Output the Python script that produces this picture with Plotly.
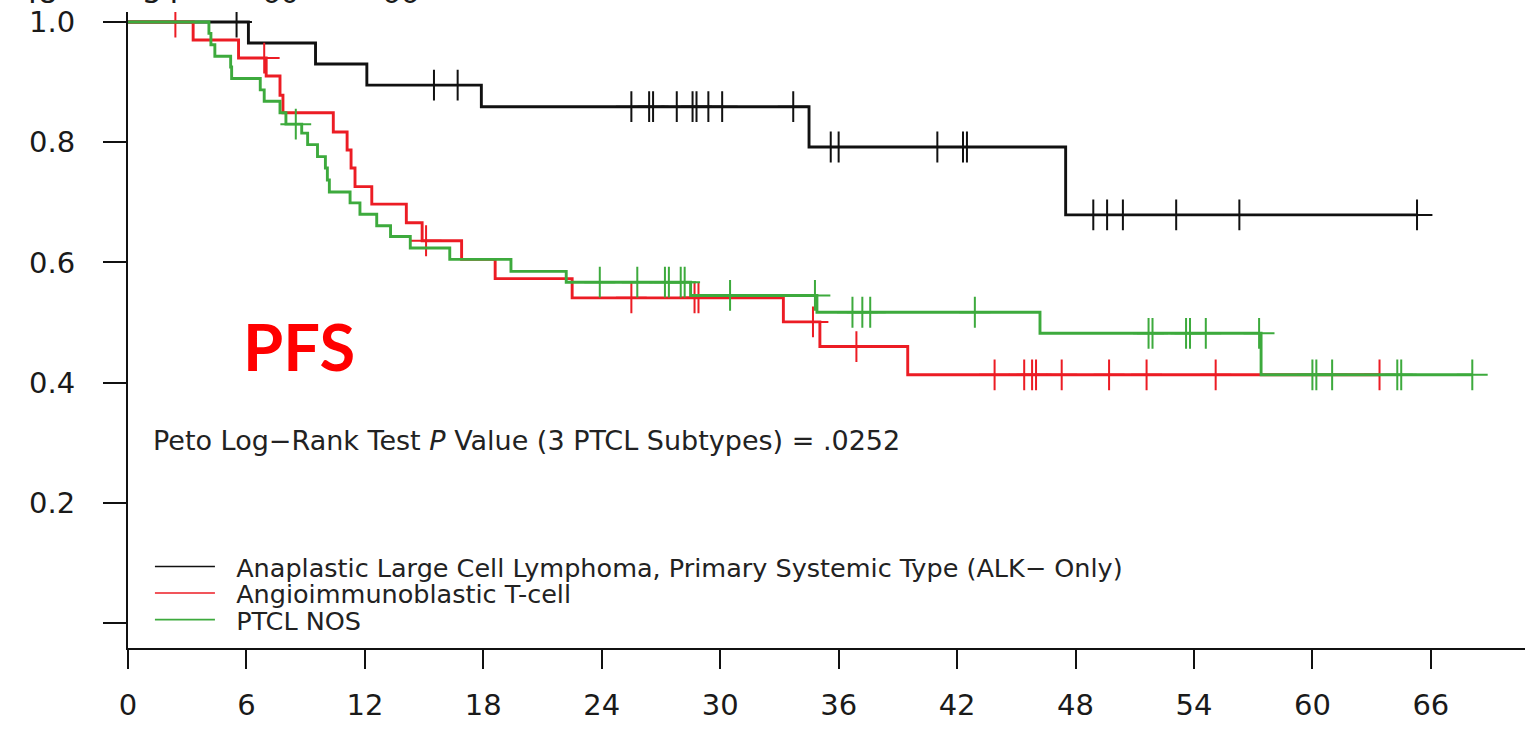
import plotly.graph_objects as go

# ---- axis ticks -------------------------------------------------------------
month_ticks = [0, 6, 12, 18, 24, 30, 36, 42, 48, 54, 60, 66]
surv_ticks = [0.0, 0.2, 0.4, 0.6, 0.8, 1.0]
surv_tick_text = ["", "0.2", "0.4", "0.6", "0.8", "1.0"]

# ---- ALCL, primary systemic type (ALK- only) --------------------------------
alcl_event_t = [6.1, 9.5, 12.1, 17.9, 34.5, 47.5]
alcl_event_s = [0.965, 0.930, 0.895, 0.859, 0.792, 0.679]
alcl_censor_t = [5.5, 15.5, 16.7, 25.5, 26.4, 26.6, 27.8, 28.6, 28.8, 29.4,
                 30.1, 33.7, 35.6, 36.0, 41.0, 42.3, 42.5, 48.9, 49.6, 50.4,
                 53.1, 56.3, 65.3]

# ---- Angioimmunoblastic T-cell ----------------------------------------------
aitl_event_t = [3.3, 5.6, 7.0, 7.7, 7.85, 10.4, 11.1, 11.3, 11.5, 12.35,
                14.1, 14.9, 16.9, 18.6, 22.5, 33.2, 35.05, 39.5]
aitl_event_s = [0.970, 0.940, 0.910, 0.878, 0.849, 0.817, 0.787, 0.757, 0.726,
                0.697, 0.666, 0.636, 0.605, 0.573, 0.541, 0.501, 0.460, 0.413]
aitl_censor_t = [2.4, 6.9, 15.1, 25.5, 28.7, 28.9, 34.7, 36.9, 43.9, 45.4,
                 45.8, 46.0, 47.3, 49.7, 51.6, 55.1, 63.4]

# ---- PTCL NOS ---------------------------------------------------------------
ptcl_event_t = [4.1, 4.2, 4.4, 5.2, 5.25, 6.7, 6.9, 7.7, 8.0, 8.8, 9.1, 9.6,
                10.0, 10.1, 10.2, 11.25, 11.75, 12.6, 13.3, 14.3, 16.3, 19.4,
                22.2, 28.5, 34.9, 46.2, 57.4]
ptcl_event_s = [0.981, 0.962, 0.943, 0.925, 0.906, 0.887, 0.868, 0.849, 0.830,
                0.815, 0.796, 0.776, 0.757, 0.737, 0.717, 0.699, 0.680, 0.661,
                0.643, 0.624, 0.605, 0.585, 0.567, 0.545, 0.517, 0.482, 0.413]
ptcl_censor_t = [8.5, 23.9, 25.8, 27.2, 27.4, 28.0, 28.2, 30.5, 34.8, 36.7,
                 37.2, 37.6, 42.9, 51.7, 51.9, 53.6, 53.8, 54.6, 57.3, 60.0,
                 60.2, 61.0, 64.3, 64.5, 68.1]

group_names = ["Anaplastic Large Cell Lymphoma, Primary Systemic Type (ALK\u2212 Only)",
               "Angioimmunoblastic T-cell",
               "PTCL NOS"]
group_colors = ["#111111", "#ec1c24", "#3daa3d"]

groups = [
    (alcl_event_t, alcl_event_s, alcl_censor_t),
    (aitl_event_t, aitl_event_s, aitl_censor_t),
    (ptcl_event_t, ptcl_event_s, ptcl_censor_t),
]


def surv_at(t, event_t, event_s):
    """Kaplan-Meier estimate at time t (right-continuous step)."""
    s = 1.0
    for et, es in zip(event_t, event_s):
        if et <= t:
            s = es
    return s


fig = go.Figure()

for (ev_t, ev_s, cen_t), color in zip(groups, group_colors):
    end_t = max(max(cen_t), max(ev_t))
    xs = [0.0] + list(ev_t) + [end_t]
    ys = [1.0] + list(ev_s) + [ev_s[-1]]
    fig.add_trace(go.Scatter(
        x=xs, y=ys, mode="lines", line=dict(color=color, width=2.9, shape="hv"),
        showlegend=False, hoverinfo="skip"))
    fig.add_trace(go.Scatter(
        x=cen_t, y=[surv_at(t, ev_t, ev_s) for t in cen_t], mode="markers",
        marker=dict(symbol="cross-thin", size=22,
                    line=dict(color=color, width=2)),
        showlegend=False, hoverinfo="skip"))

# legend keys: one small legend per group so the rows sit tightly stacked
legend_ids = ["legend", "legend2", "legend3"]
for name, color, lid in zip(group_names, group_colors, legend_ids):
    fig.add_trace(go.Scatter(
        x=[None], y=[None], mode="lines", line=dict(color=color, width=1.6),
        name="\u00a0\u00a0" + name, legend=lid))

text_family = "DejaVu Sans, Liberation Sans, Arial, sans-serif"
axis_font = dict(family=text_family, size=29, color="#1a1a1a")
legend_font = dict(family=text_family, size=25.5, color="#222222")


def legend_box(yp):
    return dict(x=0.0157, y=yp, xanchor="left", yanchor="middle",
                bgcolor="rgba(0,0,0,0)", borderwidth=0, itemwidth=60,
                font=legend_font)


fig.update_layout(
    width=1525, height=729,
    margin=dict(l=128, r=0, t=12, b=81),
    paper_bgcolor="white", plot_bgcolor="white",
    showlegend=True,
    legend=legend_box(0.1274),
    legend2=legend_box(0.0857),
    legend3=legend_box(0.0440),
    xaxis=dict(
        range=[0, 70.77], tickvals=month_ticks, ticktext=[str(m) for m in month_ticks],
        showline=True, linecolor="#111111", linewidth=2,
        ticks="outside", ticklen=19, tickwidth=2, tickcolor="#111111",
        ticklabelstandoff=11,
        showgrid=False, zeroline=False, tickfont=axis_font,
    ),
    yaxis=dict(
        range=[-0.0416, 1.0166], tickvals=surv_ticks, ticktext=surv_tick_text,
        showline=True, linecolor="#111111", linewidth=2,
        ticks="outside", ticklen=23, tickwidth=2, tickcolor="#111111",
        ticklabelstandoff=22,
        showgrid=False, zeroline=False, tickfont=axis_font,
    ),
)

fig.add_annotation(
    text="Peto Log\u2212Rank Test <i>P</i> Value (3 PTCL Subtypes) = .0252",
    xref="paper", yref="paper", x=0.0165, y=0.3255,
    xanchor="left", yanchor="middle", showarrow=False,
    font=dict(family=text_family, size=27, color="#222222"),
)

fig.add_annotation(
    text="<b>PFS</b>",
    xref="paper", yref="paper", x=0.0809, y=0.4756,
    xanchor="left", yanchor="middle", showarrow=False,
    font=dict(family="Lato, sans-serif", size=65, color="#ff0000"),
)

# tick labels of the panel above, running off the top edge
upper_labels = ["48", "54", "60", "66"]
upper_label_x = [-0.0644, 0.0243, 0.1095, 0.1954]
for lab, xp in zip(upper_labels, upper_label_x):
    fig.add_annotation(
        text=lab, xref="paper", yref="paper", x=xp, y=1.0,
        xanchor="center", yanchor="bottom", showarrow=False,
        font=axis_font,
    )

fig.write_html("out.html")
